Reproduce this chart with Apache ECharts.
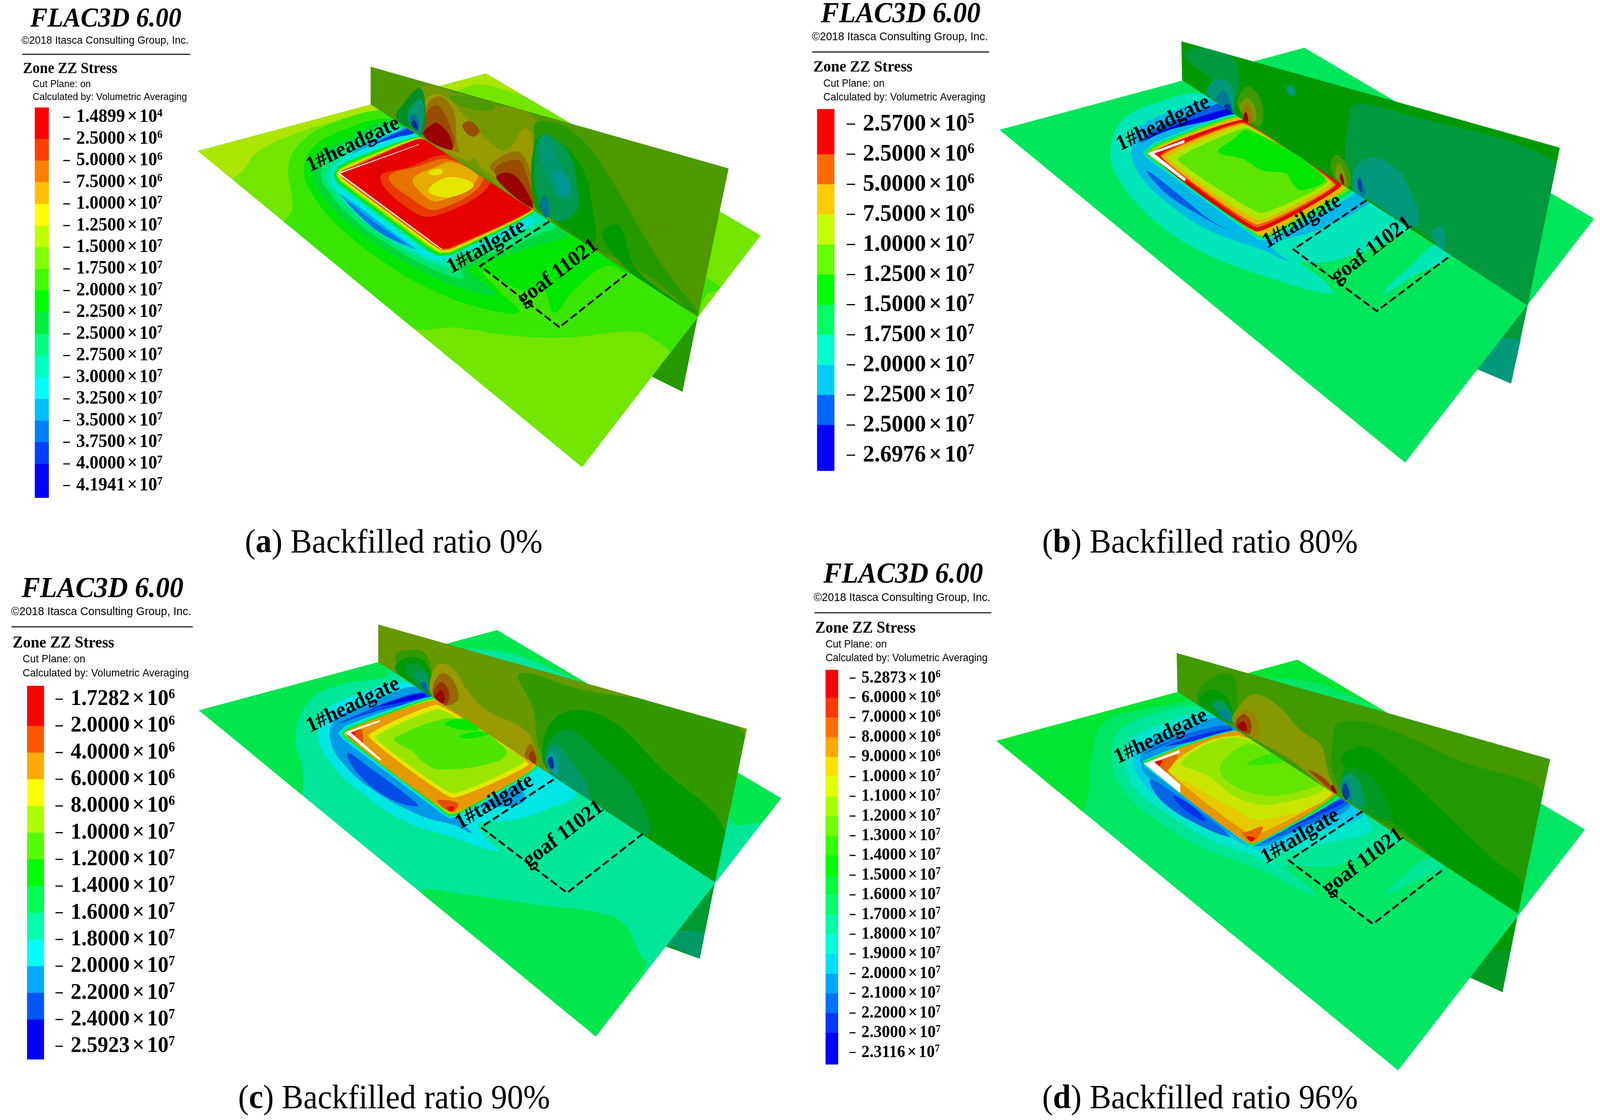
<!DOCTYPE html>
<html>
<head>
<meta charset="utf-8">
<title>Zone ZZ Stress</title>
<script src="https://cdn.jsdelivr.net/npm/echarts@6/dist/echarts.min.js"></script>
<style>
html, body { margin: 0; padding: 0; background: #fff; overflow: hidden; }
#main { width: 4324px; height: 2866px; transform-origin: 0 0; }
</style>
</head>
<body>
<div id="main"></div>
<script>
// colour bar labels, [mantissa, exponent]
var labelsA = [["1.4899",4],["2.5000",6],["5.0000",6],["7.5000",6],["1.0000",7],["1.2500",7],["1.5000",7],["1.7500",7],["2.0000",7],["2.2500",7],["2.5000",7],["2.7500",7],["3.0000",7],["3.2500",7],["3.5000",7],["3.7500",7],["4.0000",7],["4.1941",7]];
var labelsB = [["2.5700",5],["2.5000",6],["5.0000",6],["7.5000",6],["1.0000",7],["1.2500",7],["1.5000",7],["1.7500",7],["2.0000",7],["2.2500",7],["2.5000",7],["2.6976",7]];
var labelsC = [["1.7282",6],["2.0000",6],["4.0000",6],["6.0000",6],["8.0000",6],["1.0000",7],["1.2000",7],["1.4000",7],["1.6000",7],["1.8000",7],["2.0000",7],["2.2000",7],["2.4000",7],["2.5923",7]];
var labelsD = [["5.2873",6],["6.0000",6],["7.0000",6],["8.0000",6],["9.0000",6],["1.0000",7],["1.1000",7],["1.2000",7],["1.3000",7],["1.4000",7],["1.5000",7],["1.6000",7],["1.7000",7],["1.8000",7],["1.9000",7],["2.0000",7],["2.1000",7],["2.2000",7],["2.3000",7],["2.3116",7]];

// colour of each contour level
var colorsA = ["#ff0000","#ff4000","#ff8000","#ffbf00","#ffff00","#bfff00","#80ff00","#40ff00","#00ff00","#00f040","#00ff80","#00ffbf","#00ffff","#00bfff","#0080ff","#0040ff","#0000ff"];
var colorsB = ["#ff0000","#ff6a00","#ffcc00","#c4ff00","#66ff00","#00ff00","#00ff66","#00ffcc","#00ccff","#0066ff","#0000ff"];
var colorsC = ["#ff0000","#ff5500","#ffaa00","#ffff00","#aaff00","#55ff00","#00ff00","#00ff55","#00ffaa","#00ffff","#00aaff","#0055ff","#0000ff"];
var colorsD = ["#ff0000","#ff3800","#ff7000","#ffa800","#ffe000","#e0ff00","#a8ff00","#70ff00","#38ff00","#00ff00","#00ff38","#00ff70","#00ffa8","#00ffe0","#00e0ff","#00a8ff","#0070ff","#0038ff","#0000ff"];

var captions = [["a","Backfilled ratio 0%"],["b","Backfilled ratio 80%"],["c","Backfilled ratio 90%"],["d","Backfilled ratio 96%"]];

// digitised contours: level, then x,y pairs
var plateA = [14,343, 778,55, 1505,657, 1032,1518];
var wallA = [472,30, 1420,408, 1338,960, 472,170];
var underA = [[7, 1338,960, 1298,1238, 1100,1100]];
var outerA = [
 [6, 14,343, 778,55, 1505,657, 1032,1518],
 [5, -20,343, 472,150, 500,185, 380,230, 260,285, 170,350, 130,420, 90,450, -20,420],
 [5, 640,100, 778,40, 880,135, 760,95, 690,120],
 [7, 500,190, 380,235, 300,295, 255,390, 265,560, 240,625, 570,990, 700,1000, 850,1030, 1000,1035, 1180,1015, 1240,1060, 1290,1100, 1340,960, 1360,880, 1400,850, 1200,700, 950,400, 700,190],
 [8, 520,225, 400,265, 320,330, 295,420, 330,530, 400,640, 500,750, 620,850, 760,925, 865,942, 810,860, 770,790, 870,860, 930,860, 958,945, 1010,860, 1100,770, 1160,800, 1200,750, 1100,650, 950,540, 650,300],
 [9, 540,235, 420,290, 345,350, 320,430, 350,520, 420,620, 520,720, 650,820, 730,860, 805,880, 760,820, 730,780, 900,700, 1000,640, 830,480],
 [10, 550,250, 440,300, 365,365, 340,430, 370,510, 430,600, 530,700, 650,790, 720,815, 700,750, 800,720, 920,650, 960,620],
 [11, 560,262, 445,320, 380,380, 355,440, 385,510, 450,600, 550,700, 640,760, 690,770, 700,730, 800,690, 910,620, 940,600],
 [12, 570,272, 455,330, 385,390, 368,440, 395,510, 460,595, 560,690, 640,745, 680,740, 780,680, 900,590],
 [13, 392,505, 450,560, 530,645, 592,708, 520,665, 450,590],
 [14, 405,525, 460,585, 535,660, 565,690, 500,650, 440,580],
 [13, 595,272, 530,298, 470,325, 420,355, 470,310, 540,272, 575,250],
 [15, 595,272, 530,296, 480,318, 540,276, 578,258]
];
var coreA = [
 [10, 605,288, 410,378, 380,405, 372,435, 382,465, 620,715, 650,735, 690,730, 915,560],
 [8, 605,290, 415,382, 384,408, 376,433, 388,462, 625,710, 652,730, 688,725, 912,558],
 [6, 605,292, 420,386, 388,410, 380,431, 392,458, 630,705, 654,724, 686,720, 910,557],
 [4, 607,294, 425,390, 392,412, 384,429, 396,454, 634,700, 656,718, 684,715, 907,556],
 [2, 607,296, 430,394, 396,414, 388,427, 400,450, 638,695, 658,712, 682,710, 904,556],
 [0, 607,298, 435,398, 400,416, 392,426, 404,446, 642,690, 660,706, 680,705, 900,556]
];
var innerA = [
 [1, 498,440, 570,405, 680,360, 790,455, 640,585, 560,545],
 [2, 520,440, 600,400, 680,375, 770,450, 650,560, 580,520],
 [3, 585,445, 640,405, 690,385, 755,445, 650,530, 600,490],
 [4, 625,490, 680,440, 745,470, 680,515],
 [4, 625,420, 660,410, 660,428, 632,432]
];
var whiteA = [[0, 385,425, 600,318, 600,320, 391,427, 662,708, 660,710, 385,427]];
var wallLayersA = [
 [6, 472,30, 1420,408, 1338,960, 472,170],
 [5, 610,100, 700,130, 800,170, 900,210, 920,300, 910,480, 905,570, 780,440, 610,285, 605,180],
 [6, 680,135, 800,172, 790,195, 710,175],
 [4, 620,150, 660,135, 720,210, 780,300, 830,340, 880,260, 905,300, 905,500, 900,550, 790,430, 615,280],
 [5, 735,375, 750,372, 760,400, 745,405],
 [3, 612,270, 615,190, 650,140, 690,190, 700,310, 705,350],
 [3, 790,410, 800,380, 860,345, 890,400, 905,540, 895,540],
 [2, 610,280, 625,190, 650,175, 680,240, 690,330],
 [2, 715,250, 735,232, 760,270, 740,290],
 [2, 800,420, 860,375, 885,430, 900,545],
 [0, 612,285, 640,240, 660,250, 685,300, 685,340],
 [0, 805,445, 840,425, 880,480, 900,555],
 [9, 555,175, 600,110, 615,150, 610,280, 590,270, 540,220],
 [11, 570,210, 600,150, 612,180, 605,275, 590,265],
 [13, 575,225, 590,205, 600,240, 598,270, 590,262],
 [15, 580,240, 588,228, 597,260, 590,262],
 [7, 905,250, 960,240, 1030,300, 1100,430, 1180,620, 1250,780, 1340,950, 1200,800, 950,590],
 [8, 910,300, 960,300, 1030,400, 1060,560, 1060,680, 950,590, 905,540],
 [8, 1085,650, 1130,620, 1170,770, 1240,860, 1340,950, 1250,880, 1150,780],
 [10, 915,300, 950,290, 1000,360, 1020,480, 1020,560, 985,600, 945,590, 910,500],
 [11, 925,290, 945,285, 960,350, 985,420, 1005,480, 995,520, 970,520, 950,470, 925,380],
 [12, 960,420, 985,430, 998,490, 980,510, 965,470],
 [13, 920,540, 935,510, 945,570, 935,590]
];
var dashA = [945,605, 762,770, 972,998, 1150,800];
var notesA = [["1#headgate",425,320,25],["1#tailgate",778,700,29],["goaf 11021",968,795,36]];

var plateB = [20,347, 808,58, 1557,660, 1068,1518];
var wallB = [490,35, 1468,410, 1385,965, 492,172];
var underB = [[6, 1385,965, 1342,1240, 1100,1100],[7, 1367,1085, 1342,1240, 1240,1180, 1300,1075]];
var outerB = [
 [6, 20,347, 808,58, 1557,660, 1068,1518],
 [7, 545,220, 430,250, 340,310, 308,410, 320,500, 400,640, 520,760, 680,850, 880,925, 860,880, 795,810, 840,815, 930,790, 1060,710, 1090,680, 1000,560, 650,300],
 [7, 1015,925, 1030,890, 1080,830, 1150,750, 1185,790, 1090,860],
 [8, 580,240, 470,280, 380,340, 360,420, 385,510, 460,610, 560,700, 700,770, 765,808, 725,755, 840,700, 960,620, 1000,560, 650,310],
 [9, 400,490, 470,560, 560,660, 610,700, 540,650, 450,570],
 [9, 610,250, 520,290, 420,345, 385,392, 470,335, 625,290],
 [10, 625,272, 560,292, 440,350, 395,385, 460,347, 625,292]
];
var coreB = [
 [7, 630,292, 420,392, 392,425, 400,445, 680,725, 690,735, 712,735, 945,560],
 [6, 632,296, 425,396, 396,426, 404,442, 685,722, 710,730, 935,556],
 [4, 636,300, 430,398, 400,428, 406,438, 685,718, 708,724, 925,552],
 [2, 640,304, 436,402, 404,430, 408,436, 685,712, 706,718, 915,548],
 [0, 412,432, 650,312, 905,540, 685,705],
 [1, 435,438, 650,320, 890,540, 685,690],
 [2, 440,440, 650,325, 885,540, 685,680],
 [3, 455,445, 655,330, 875,535, 690,665],
 [4, 480,450, 660,340, 868,530, 695,640]
];
var innerB = [
 [5, 585,425, 620,385, 665,350, 860,515, 800,560, 775,530, 760,500, 700,490, 650,450]
];
var whiteB = [[0, 403,430, 498,382, 498,392, 420,430, 502,520, 498,528]];
var wallLayersB = [
 [5, 490,35, 1468,410, 1385,965, 492,172],
 [6, 500,90, 520,60, 620,90, 640,170, 620,250, 560,160],
 [6, 925,280, 950,255, 1040,280, 1468,470, 1440,640, 1385,965, 1100,700, 930,520],
 [7, 555,215, 580,170, 620,190, 620,290, 580,245],
 [8, 580,240, 600,210, 620,260, 620,280],
 [9, 600,265, 612,255, 622,285, 612,280],
 [4, 635,260, 660,195, 695,240, 700,320, 685,335],
 [3, 640,270, 660,235, 680,270, 680,320],
 [2, 648,290, 660,255, 672,285, 670,325, 655,320],
 [0, 650,310, 655,285, 660,290, 662,320],
 [4, 875,480, 890,435, 918,470, 928,540, 905,548],
 [3, 888,510, 897,465, 912,500, 915,540],
 [0, 900,520, 903,500, 910,525, 910,542],
 [7, 935,560, 940,480, 985,445, 1050,490, 1090,590, 1105,660, 1085,690, 985,600],
 [8, 945,550, 950,510, 965,560, 960,585],
 [9, 945,530, 952,520, 958,560, 952,565],
 [7, 760,200, 775,190, 785,215, 775,230],
 [7, 1140,700, 1165,690, 1170,770, 1145,745]
];
var dashB = [968,595, 780,768, 995,985, 1185,790];
var notesB = [["1#headgate",443,325,25],["1#tailgate",802,670,29],["goaf 11021",982,770,36]];

var plateC = [17,330, 797,45, 1540,642, 1055,1488];
var wallC = [486,25, 1450,395, 1367,940, 486,158];
var underC = [[7, 1367,940, 1327,1212, 1100,1100],[8, 1340,1120, 1327,1212, 1240,1155, 1280,1110]];
var outerC = [
 [8, 17,330, 797,45, 1540,642, 1055,1488],
 [7, -20,330, 486,140, 510,205, 400,235, 310,290, 270,420, 290,560, 275,635, 100,420],
 [7, 660,95, 797,30, 1040,240, 840,130],
 [7, 600,975, 720,985, 900,1020, 1070,1050, 1130,1090, 1165,1180, 1185,1250, 1055,1500, 800,1200],
 [7, 1420,550, 1540,630, 1560,720, 1480,730, 1410,725],
 [9, 560,230, 440,270, 350,330, 330,430, 370,530, 440,620, 550,720, 680,780, 800,830, 765,780, 750,730, 830,720, 930,680, 1000,620, 650,310],
 [10, 590,245, 470,300, 375,360, 360,430, 395,520, 470,610, 590,700, 690,740, 730,765, 690,690, 870,640, 650,310],
 [11, 405,480, 460,530, 550,620, 590,670, 510,640, 430,550],
 [11, 610,265, 530,290, 440,340, 385,375, 490,330, 620,285],
 [12, 600,270, 540,290, 490,315, 610,280]
];
var coreC = [
 [9, 630,282, 400,385, 382,412, 392,430, 670,712, 700,705, 910,530],
 [8, 632,284, 405,388, 387,412, 396,428, 670,708, 698,702, 905,528],
 [6, 634,286, 410,392, 391,412, 398,424, 670,702, 696,698, 900,527],
 [4, 636,288, 415,396, 395,412, 400,420, 670,698, 692,696, 898,526],
 [2, 400,410, 635,295, 895,525, 680,695],
 [3, 460,420, 640,310, 880,520, 680,640],
 [4, 478,425, 645,325, 870,510, 680,625]
];
var innerC = [
 [5, 530,425, 660,360, 720,375, 820,470, 800,510, 650,540, 600,510, 580,480, 530,440],
 [6, 660,375, 720,360, 750,395, 690,395],
 [6, 700,420, 750,405, 775,415, 720,430],
 [1, 403,412, 440,395, 445,450, 435,450],
 [0, 405,412, 425,408, 420,425],
 [1, 640,650, 695,660, 678,690],
 [0, 665,675, 685,672, 678,688]
];
var whiteC = [[0, 398,408, 490,364, 490,370, 414,408, 494,504, 490,508]];
var wallLayersC = [
 [4, 486,25, 1450,395, 1367,940, 486,158],
 [5, 855,200, 1000,250, 1440,408, 1367,940, 1100,690, 920,500, 890,320],
 [5, 530,140, 560,115, 610,130, 630,250, 620,270, 570,230],
 [6, 915,470, 940,370, 1000,330, 1100,370, 1230,540, 1390,750, 1367,940, 1100,690, 930,540],
 [7, 920,480, 945,420, 990,400, 1070,490, 1160,620, 1200,760, 1180,770, 1070,700, 950,580],
 [8, 925,500, 950,450, 990,510, 1030,590, 1035,650, 985,600, 945,570],
 [9, 925,510, 945,470, 960,530, 950,560],
 [11, 930,505, 940,495, 945,535, 935,535],
 [6, 530,180, 570,140, 615,170, 625,280, 580,240],
 [7, 555,180, 590,165, 618,210, 620,270, 590,240],
 [8, 580,205, 605,195, 618,240, 615,260],
 [10, 595,235, 608,230, 615,265, 605,255],
 [3, 620,255, 640,170, 680,180, 720,260, 770,330, 860,390, 890,440, 895,525, 760,400, 640,290],
 [2, 628,260, 650,200, 680,220, 695,290, 655,310],
 [1, 630,270, 650,230, 670,260, 665,310, 645,295],
 [0, 635,280, 650,260, 660,285, 655,305, 640,295],
 [2, 870,490, 885,450, 900,490, 895,525],
 [1, 880,490, 890,475, 900,510, 893,520]
];
var dashC = [945,575, 755,745, 980,978, 1178,768];
var notesC = [["1#headgate",420,312,25],["1#tailgate",790,655,30],["goaf 11021",970,770,36]];

var plateD = [12,355, 790,67, 1533,670, 1050,1525];
var wallD = [478,43, 1443,420, 1360,968, 480,180];
var underD = [[9, 1360,968, 1320,1247, 1100,1100],[10, 1340,1100, 1320,1247, 1235,1195, 1280,1090]];
var outerD = [
 [11, 12,355, 790,67, 1533,670, 1050,1525],
 [10, -20,355, 480,160, 510,205, 400,240, 290,290, 255,430, 250,540, 225,610, 100,450],
 [10, 650,115, 790,50, 1030,255, 840,150],
 [12, 560,235, 420,260, 330,320, 310,420, 340,530, 420,630, 540,730, 690,810, 840,908, 800,850, 760,800, 880,800, 1010,740, 1060,700, 650,310],
 [12, 1020,898, 1060,840, 1130,770, 1170,805, 1100,850],
 [13, 575,250, 450,290, 360,350, 345,420, 370,520, 450,610, 570,710, 690,770, 750,820, 720,770, 830,730, 980,650, 650,310],
 [14, 590,260, 470,310, 380,370, 365,430, 395,510, 480,600, 600,690, 695,745, 720,745, 800,700, 960,600, 650,320],
 [15, 600,270, 490,325, 395,385, 385,435, 415,500, 500,590, 610,680, 680,730, 780,680, 925,570, 650,320],
 [16, 410,495, 470,540, 560,630, 615,695, 530,650, 440,570],
 [16, 615,300, 530,320, 440,365, 395,400, 490,350, 620,315],
 [16, 905,560, 830,620, 720,700, 690,725, 820,650, 920,580],
 [17, 470,550, 530,600, 550,640, 490,590],
 [17, 620,310, 520,340, 450,375, 620,322],
 [17, 900,565, 800,630, 740,680, 910,575]
];
var coreD = [
 [12, 630,318, 490,370, 392,425, 395,445, 665,728, 675,730, 900,552],
 [9, 630,320, 490,376, 396,430, 400,442, 668,724, 675,726, 893,549],
 [3, 403,435, 632,320, 885,545, 670,720],
 [4, 450,450, 640,335, 880,540, 675,690]
];
var innerD = [
 [5, 460,450, 640,340, 875,530, 700,635, 620,590, 530,520],
 [6, 490,430, 640,345, 860,510, 730,580, 640,560, 560,480],
 [7, 590,450, 650,370, 700,380, 850,495, 760,545, 690,545, 620,510],
 [8, 660,435, 730,400, 770,420, 700,440],
 [2, 405,435, 480,405, 450,470, 440,480],
 [0, 405,437, 440,425, 425,450],
 [2, 650,680, 700,660, 672,715, 640,670],
 [0, 660,695, 680,700, 670,712]
];
var whiteD = [[0, 393,435, 485,388, 485,398, 420,430, 487,510, 487,540]];
var wallLayersD = [
 [7, 478,43, 1443,420, 1360,968, 480,180],
 [8, 885,310, 920,285, 1000,300, 1200,420, 1443,575, 1360,968, 1100,720, 900,520],
 [9, 905,430, 950,375, 1010,410, 1100,520, 1200,650, 1300,780, 1370,860, 1360,968, 1100,720],
 [10, 905,500, 920,450, 980,480, 1030,600, 1030,640, 960,600],
 [12, 900,520, 920,470, 950,500, 960,590, 925,570],
 [14, 903,530, 915,490, 930,530, 925,565],
 [16, 905,530, 913,505, 925,545, 915,565],
 [8, 530,200, 560,140, 620,120, 635,230, 625,290, 580,260],
 [9, 535,230, 560,175, 600,190, 625,260, 625,295],
 [12, 570,230, 590,210, 618,255, 622,290],
 [14, 585,255, 605,245, 620,285, 610,285],
 [5, 625,290, 640,230, 680,190, 740,230, 800,320, 850,370, 870,470, 890,545, 780,430],
 [4, 628,295, 645,250, 680,260, 690,350, 660,330],
 [4, 815,460, 850,470, 890,545],
 [2, 630,300, 650,260, 670,290, 665,330],
 [2, 820,460, 860,490, 892,545],
 [0, 635,305, 650,285, 660,315, 650,320],
 [0, 880,510, 892,540, 878,530]
];
var dashD = [958,605, 768,780, 985,1005, 1170,808];
var notesD = [["1#headgate",437,340,25],["1#tailgate",797,695,30],["goaf 11021",960,785,36]];

// where each panel sits on the page
var panels = [
    {plate: plateA, wall: wallA, under: underA, outer: outerA, core: coreA, inner: innerA, white: whiteA, wallLayers: wallLayersA, dash: dashA, notes: notesA, colors: colorsA,
     rect: [520, 150, 1600, 1080], labels: labelsA, bar: [94, 275, 38, 998], yRange: [-0.45, 17.55], offset: 39, tick: 18, margin: 35, font: 48,
     head: {tx: 286, ty: 50, ts: 70, cx: 58, cy: 104, cs: 28, r: [60, 514, 139], zx: 62, zy: 177, zs: 39, px: 88, py1: 216, py2: 249, ps: 26},
     cap: [1064, 1391]},
    {plate: plateB, wall: wallB, under: underB, outer: outerB, core: coreB, inner: innerB, white: whiteB, wallLayers: wallLayersB, dash: dashB, notes: notesB, colors: colorsB,
     rect: [2680, 80, 1640, 1140], labels: labelsB, bar: [2208, 279, 47, 925], yRange: [-0.5, 11.51], offset: 33, tick: 23, margin: 44, font: 62,
     head: {tx: 2434, ty: 38, ts: 74, cx: 2194, cy: 95, cs: 29.5, r: [2195, 2673, 133], zx: 2198, zy: 172, zs: 41, px: 2225, py1: 214, py2: 249, ps: 27.3},
     cap: [3243, 1391]},
    {plate: plateC, wall: wallC, under: underC, outer: outerC, core: coreC, inner: innerC, white: whiteC, wallLayers: wallLayersC, dash: dashC, notes: notesC, colors: colorsC,
     rect: [520, 1580, 1620, 1130], labels: labelsC, bar: [73, 1755, 46, 955], yRange: [-0.5, 13.48], offset: 31, tick: 20, margin: 41, font: 58,
     head: {tx: 277, ty: 1509, ts: 75, cx: 30, cy: 1566, cs: 30.2, r: [31, 521, 1604], zx: 34, zy: 1646, zs: 42, px: 61, py1: 1687, py2: 1723, ps: 28},
     cap: [1065, 2813]},
    {plate: plateD, wall: wallD, under: underD, outer: outerD, core: coreD, inner: innerD, white: whiteD, wallLayers: wallLayersD, dash: dashD, notes: notesD, colors: colorsD,
     rect: [2680, 1640, 1640, 1130], labels: labelsD, bar: [2231, 1714, 34, 1009], yRange: [-0.42, 19.59], offset: 31, tick: 16, margin: 32, font: 44,
     head: {tx: 2441, ty: 1472, ts: 74, cx: 2199, cy: 1530, cs: 29.6, r: [2201, 2679, 1568], zx: 2203, zy: 1608, zs: 41.5, px: 2231, py1: 1649, py2: 1684, ps: 27.3},
     cap: [3243, 2813]}
];

var SERIF = '"Liberation Serif"';
var SANS = '"Liberation Sans"';

// the window can be narrower than the figure, fit the whole figure into it
var mainEl = document.getElementById('main');
mainEl.style.transform = 'scale(' + (window.innerWidth / 4324) + ',' + (window.innerHeight / 2866) + ')';

function shade(hex, f) {
    var r = parseInt(hex.substr(1, 2), 16), g = parseInt(hex.substr(3, 2), 16), b = parseInt(hex.substr(5, 2), 16);
    return 'rgb(' + Math.round(r * f) + ',' + Math.round(g * f) + ',' + Math.round(b * f) + ')';
}

function toPoints(api, flat) {
    var pts = [];
    for (var i = 0; i + 1 < flat.length; i += 2) {
        pts.push(api.coord([flat[i], flat[i + 1]]));
    }
    return pts;
}

// one custom series per group of contour polygons
function layerSeries(axis, layers, colors, f, smooth, clipFlat, fixed) {
    return {
        type: 'custom',
        coordinateSystem: 'cartesian2d',
        xAxisIndex: axis,
        yAxisIndex: axis,
        silent: true,
        clip: false,
        animation: false,
        data: layers.map(function (l, i) { return [i, i]; }),
        renderItem: function (params, api) {
            var l = layers[params.dataIndex];
            var el = {
                type: 'polygon',
                shape: {points: toPoints(api, l.slice(1)), smooth: smooth},
                style: {fill: fixed || shade(colors[l[0]], f)}
            };
            if (clipFlat) {
                el.clipPath = {type: 'polygon', shape: {points: toPoints(api, clipFlat)}};
            }
            return el;
        }
    };
}

function markSeries(axis, p) {
    return {
        type: 'custom',
        coordinateSystem: 'cartesian2d',
        xAxisIndex: axis,
        yAxisIndex: axis,
        silent: true,
        clip: false,
        animation: false,
        data: [[0, 0]],
        renderItem: function (params, api) {
            var children = [{
                type: 'polyline',
                shape: {points: toPoints(api, p.dash)},
                style: {fill: 'none', stroke: '#000', lineWidth: 5, lineDash: [20, 9]}
            }];
            p.notes.forEach(function (n) {
                var c = api.coord([n[1], n[2]]);
                children.push({
                    type: 'text',
                    x: c[0],
                    y: c[1],
                    rotation: n[3] * Math.PI / 180,
                    style: {text: n[0], font: 'bold 56px ' + SERIF, fill: '#000', align: 'center', verticalAlign: 'middle'}
                });
            });
            return {type: 'group', children: children};
        }
    };
}

// colour bar, cell i runs from tick i to tick i+1, tick marks beside it
function barSeries(axis, p) {
    return {
        type: 'custom',
        coordinateSystem: 'cartesian2d',
        xAxisIndex: axis,
        yAxisIndex: axis,
        silent: true,
        clip: false,
        animation: false,
        data: p.labels.map(function (c, i) { return [0, i]; }),
        renderItem: function (params, api) {
            var i = params.dataIndex;
            var t = api.coord([1, i]);
            var tickEl = {
                type: 'line',
                shape: {x1: t[0] + p.offset, y1: t[1], x2: t[0] + p.offset + p.tick, y2: t[1]},
                style: {stroke: '#000', lineWidth: 3}
            };
            if (i >= p.colors.length) {
                return tickEl;
            }
            var y0 = i === 0 ? p.yRange[0] : i;
            var y1 = i === p.colors.length - 1 ? p.yRange[1] : i + 1;
            var a = api.coord([0, y0]), b = api.coord([1, y1]);
            return {
                type: 'group',
                children: [{
                    type: 'rect',
                    shape: {x: a[0], y: a[1], width: b[0] - a[0], height: b[1] - a[1] + 1},
                    style: {fill: p.colors[i]}
                }, tickEl]
            };
        }
    };
}

function headerText(p) {
    var h = p.head, out = [];
    function txt(x, y, s, font, align) {
        out.push({type: 'text', x: x, y: y, silent: true,
            style: {text: s, font: font, fill: '#000', align: align || 'left', verticalAlign: 'middle'}});
    }
    txt(h.tx, h.ty, 'FLAC3D 6.00', 'italic bold ' + h.ts + 'px ' + SERIF, 'center');
    txt(h.cx, h.cy, '\u00a92018 Itasca Consulting Group, Inc.', h.cs + 'px ' + SANS);
    out.push({type: 'line', silent: true, shape: {x1: h.r[0], y1: h.r[2], x2: h.r[1], y2: h.r[2]}, style: {stroke: '#222', lineWidth: 3}});
    txt(h.zx, h.zy, 'Zone ZZ Stress', 'bold ' + h.zs + 'px ' + SERIF);
    txt(h.px, h.py1, 'Cut Plane: on', h.ps + 'px ' + SANS);
    txt(h.px, h.py2, 'Calculated by: Volumetric Averaging', h.ps + 'px ' + SANS);
    return out;
}

var grids = [], xAxes = [], yAxes = [], series = [], graphics = [];

panels.forEach(function (p, k) {
    // axes over the panel picture, same units as the digitised contours
    var axis = grids.length;
    grids.push({left: p.rect[0], top: p.rect[1], width: p.rect[2], height: p.rect[3], containLabel: false});
    xAxes.push({type: 'value', gridIndex: axis, min: 0, max: 1568, show: false});
    yAxes.push({type: 'value', gridIndex: axis, min: 0, max: 1568, inverse: true, show: false});

    series.push(layerSeries(axis, p.under, p.colors, 0.6, 0));
    series.push(layerSeries(axis, p.outer, p.colors, 0.9, 0.4, p.plate));
    series.push(layerSeries(axis, p.core, p.colors, 0.9, 0.1, p.plate));
    series.push(layerSeries(axis, p.inner, p.colors, 0.9, 0.4, p.plate));
    series.push(layerSeries(axis, p.white, p.colors, 1, 0, p.plate, '#fff'));
    series.push(layerSeries(axis, p.wallLayers, p.colors, 0.6, 0.4, p.wall));
    series.push(markSeries(axis, p));

    // colour bar with its tick labels on a native axis
    var barAxis = grids.length;
    var ticks = p.labels.map(function (l, i) { return i; });
    var fs = p.font;
    grids.push({left: p.bar[0], top: p.bar[1], width: p.bar[2], height: p.bar[3], containLabel: false});
    xAxes.push({type: 'value', gridIndex: barAxis, min: 0, max: 1, show: false});
    yAxes.push({
        type: 'value',
        gridIndex: barAxis,
        min: p.yRange[0],
        max: p.yRange[1],
        inverse: true,
        position: 'right',
        offset: p.offset,
        axisLine: {show: false},
        splitLine: {show: false},
        axisTick: {show: false},
        axisLabel: {
            show: true,
            customValues: ticks,
            margin: p.margin,
            align: 'left',
            hideOverlap: false,
            formatter: function (v) {
                var l = p.labels[Math.round(v)];
                return '{v|' + l[0] + '}{x|\u00d7}{t|10}{s|' + l[1] + '}';
            },
            rich: {
                v: {fontFamily: SERIF, fontWeight: 'bold', fontSize: fs, color: '#000', lineHeight: fs},
                x: {fontFamily: SERIF, fontWeight: 'bold', fontSize: fs, color: '#000', lineHeight: fs, padding: [0, fs * 0.12, 0, fs * 0.12]},
                t: {fontFamily: SERIF, fontWeight: 'bold', fontSize: fs, color: '#000', lineHeight: fs},
                s: {fontFamily: SERIF, fontWeight: 'bold', fontSize: fs * 0.6, color: '#000', lineHeight: fs * 0.6, verticalAlign: 'top'}
            }
        }
    });
    series.push(barSeries(barAxis, p));

    graphics = graphics.concat(headerText(p));

    var capText = '{n|(}{b|' + captions[k][0] + '}{n|) ' + captions[k][1] + '}';
    graphics.push({
        type: 'text',
        x: p.cap[0],
        y: p.cap[1],
        silent: true,
        style: {
            text: capText,
            align: 'center',
            verticalAlign: 'middle',
            rich: {
                n: {fontFamily: SERIF, fontSize: 87, fill: '#000'},
                b: {fontFamily: SERIF, fontSize: 87, fontWeight: 'bold', fill: '#000'}
            }
        }
    });
});

var myChart = echarts.init(mainEl);
var option = {
    backgroundColor: '#ffffff',
    animation: false,
    grid: grids,
    xAxis: xAxes,
    yAxis: yAxes,
    series: series,
    graphic: {elements: graphics}
};
myChart.setOption(option);
</script>
</body>
</html>
